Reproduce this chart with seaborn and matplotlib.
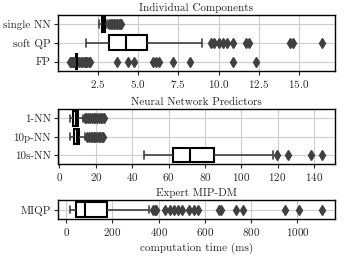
import pandas as pd
import matplotlib
matplotlib.use('Agg')
import matplotlib.pyplot as plt
import seaborn as sns

# timings (ms)
single_nn = [2.6, 2.64, 2.67, 2.69, 2.7, 2.71, 2.72, 2.73, 2.74, 2.75,
             2.75,
             2.76, 2.77, 2.78, 2.79, 2.8, 2.81, 2.82, 2.83, 2.84,
             2.85,
             2.86, 2.87, 2.88, 2.88, 2.89, 2.9, 2.91, 2.92, 2.92,
             2.93,
             3.1, 3.22, 3.31, 3.4, 3.5, 3.6, 3.7, 3.8, 3.88, 3.96]
soft_qp = [1.75, 2.3, 2.6, 2.8, 2.9, 3.0, 3.05, 3.1, 3.12, 3.15, 3.18, 3.2,
           3.22,
           3.3, 3.4, 3.5, 3.6, 3.7, 3.8, 3.9, 4.0, 4.1, 4.15, 4.2,
           4.25,
           4.3, 4.4, 4.5, 4.6, 4.7, 4.8, 4.9, 5.0, 5.2, 5.4, 5.5,
           5.58,
           8.96, 9.5, 9.7, 10.0, 10.3, 10.5, 10.9, 11.7, 11.9, 14.45, 14.6, 16.45]
fp = [0.8, 0.86, 0.92, 0.98, 1.04, 1.08, 1.09, 1.1, 1.1, 1.11, 1.11, 1.12,
      1.12, 1.13, 1.13, 1.14, 1.14, 1.15, 1.15, 1.16,
      1.16,
      1.16, 1.16, 1.165, 1.165, 1.17, 1.17, 1.17, 1.175, 1.175, 1.18, 1.18,
      1.18, 1.185, 1.185, 1.185, 1.19, 1.19, 1.19, 1.19,
      1.19,
      1.195, 1.195, 1.2, 1.2, 1.2, 1.2, 1.205, 1.205, 1.21, 1.21, 1.21, 1.21,
      1.215, 1.215, 1.215, 1.22, 1.22, 1.22, 1.22,
      1.22,
      1.29, 1.36, 1.45, 1.54, 1.62, 1.7, 1.78, 1.86, 1.94, 2.02, 3.71, 4.4,
      4.77, 5.95, 6.1, 6.3, 7.19, 8.23, 10.88, 12.33]

one_nn = [6.0, 6.4, 6.7, 6.9, 7.0, 7.1, 7.2, 7.3, 7.35, 7.4, 7.45, 7.5, 7.55,
          7.6,
          7.7, 7.8, 7.9, 8.0, 8.1, 8.2, 8.3, 8.4, 8.5, 8.6, 8.75, 8.9,
          9.0,
          9.05, 9.1, 9.2, 9.25, 9.3, 9.4, 9.5, 9.6, 9.7, 9.8, 9.85, 9.9,
          10.0,
          12.8, 13.8, 14.8, 15.8, 16.8, 17.8, 18.8, 19.8, 20.8, 21.8, 22.8, 23.6, 24.3]
ten_p_nn = [6.0, 6.5, 6.9, 7.1, 7.3, 7.5, 7.6, 7.7, 7.8, 7.9, 8.0, 8.05,
            8.1,
            8.2, 8.3, 8.4, 8.5, 8.6, 8.7, 8.8, 8.9, 9.1, 9.3, 9.4,
            9.5,
            9.6, 9.7, 9.8, 9.9, 10.0, 10.1, 10.3, 10.5, 10.6, 10.7, 10.8,
            10.9,
            14.0, 15.3, 16.2, 17.1, 18.0, 18.9, 19.8, 20.7, 21.6, 22.5, 23.4, 24.2]
ten_s_nn = [46.4, 52, 56, 59, 61,
            62.6,
            64, 66, 68.5, 70,
            71.8,
            74, 77, 80, 83,
            85.2,
            117.3, 119.5, 126, 138.3, 144.7]

miqp = [18, 22, 25, 27, 29, 30, 31, 32, 33, 34, 35, 36, 37, 38, 39, 40, 41, 42, 42,
        43,
        45, 47, 49, 51, 53, 55, 57, 59, 61, 63, 65, 67, 69, 71, 74, 76, 79, 81,
        83,
        86, 90, 94, 98, 102, 106, 110, 115, 120, 125, 130, 135, 140, 145, 150, 158, 165, 170,
        175,
        359, 375, 382, 390, 427, 449, 467, 485, 501, 533, 554, 569, 660, 670, 733, 765,
        948, 1008, 1108]

panels = [
    ('Individual Components', ['single NN', 'soft QP', 'FP'], [single_nn, soft_qp, fp]),
    ('Neural Network Predictors', ['1-NN', '10p-NN', '10s-NN'], [one_nn, ten_p_nn, ten_s_nn]),
    ('Expert MIP-DM', ['MIQP'], [miqp]),
]

sns.set_style('whitegrid', {'axes.edgecolor': 'black', 'grid.color': '0.8',
                            'xtick.bottom': True, 'ytick.left': True})
plt.rcParams['font.family'] = ['cmr10', 'DejaVu Serif']
plt.rcParams['mathtext.fontset'] = 'cm'
plt.rcParams['axes.formatter.use_mathtext'] = True
plt.rcParams['font.size'] = 8
plt.rcParams['axes.linewidth'] = 1.0
plt.rcParams['xtick.major.size'] = 3
plt.rcParams['ytick.major.size'] = 3
plt.rcParams['xtick.major.pad'] = 2
plt.rcParams['ytick.major.pad'] = 2

fig = plt.figure(figsize=(3.44, 2.56), dpi=100)
# [left, bottom, width, height]
boxes = [[0.168, 0.723, 0.806, 0.219],
         [0.168, 0.359, 0.806, 0.215],
         [0.168, 0.144, 0.806, 0.075]]

for (title, names, series), pos in zip(panels, boxes):
    ax = fig.add_axes(pos)
    df = pd.DataFrame({'method': [n for n, s in zip(names, series) for _ in s],
                       'time': [v for s in series for v in s]})
    sns.boxplot(data=df, x='time', y='method', order=names, orient='h', ax=ax,
                width=0.8, linewidth=1.0, color='white',
                boxprops=dict(facecolor='white', edgecolor='black', linewidth=1.5),
                medianprops=dict(color='black', linewidth=1.5),
                whiskerprops=dict(color='0.25', linewidth=1.2),
                capprops=dict(color='0.25', linewidth=1.2),
                flierprops=dict(marker='d', markerfacecolor='0.25',
                                markeredgecolor='0.25', markersize=5))
    ax.yaxis.grid(True)
    ax.xaxis.grid(True)
    ax.set_axisbelow(True)
    ax.set_title(title, fontsize=8, pad=3)
    ax.set_ylabel('')
    ax.set_xlabel('')
    for s in ax.spines.values():
        s.set_color('black')

ax.set_xlabel('computation time (ms)', labelpad=3)

fig.savefig('out.png', dpi=100)
